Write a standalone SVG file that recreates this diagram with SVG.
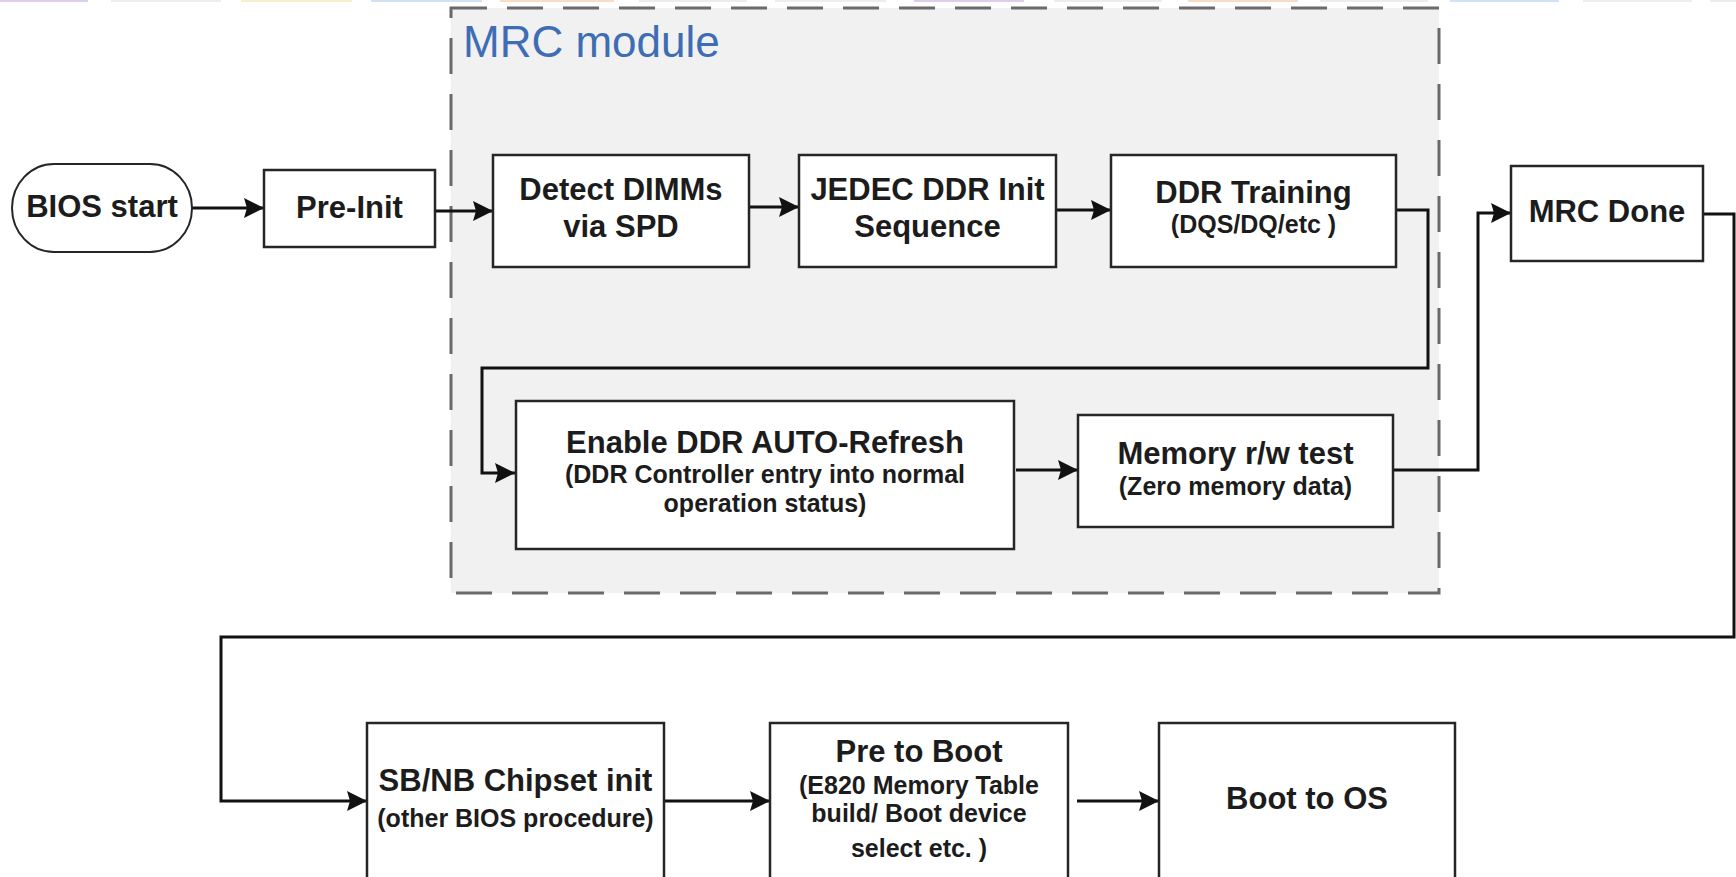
<svg xmlns="http://www.w3.org/2000/svg" width="1736" height="877" viewBox="0 0 1736 877">
  <style>
    .box { fill: #ffffff; stroke: #262626; stroke-width: 2.5; }
    .t { font-family: "Liberation Sans", Arial, sans-serif; font-weight: bold; fill: #1c1c1c; text-anchor: middle; }
    .m { font-size: 31px; }
    .s { font-size: 25px; }
    .wire { fill: none; stroke: #111111; stroke-width: 3; stroke-linejoin: miter; }
    .strip { stroke: none; }
  </style>
  <defs>
    <marker id="arr" markerUnits="userSpaceOnUse" markerWidth="22" markerHeight="22" refX="20" refY="10" orient="auto">
      <path d="M0,0 L20,10 L0,20 L3,10 Z" fill="#111111"/>
    </marker>
  </defs>

  <rect width="1736" height="877" fill="#ffffff"/>

  <!-- thin coloured tab strip along the top edge -->
  <g id="top-strip">
    <rect class="strip" x="0" y="0" width="88" height="2" fill="#dccfe9"/>
    <rect class="strip" x="111" y="0" width="110" height="2" fill="#eeeeee"/>
    <rect class="strip" x="241" y="0" width="111" height="2" fill="#f4f0c9"/>
    <rect class="strip" x="371" y="0" width="111" height="2" fill="#d3e2f3"/>
    <rect class="strip" x="500" y="0" width="114" height="2" fill="#f7dcc6"/>
    <rect class="strip" x="639" y="0" width="108" height="2" fill="#ececec"/>
    <rect class="strip" x="775" y="0" width="111" height="2" fill="#eeeeee"/>
    <rect class="strip" x="914" y="0" width="110" height="2" fill="#dccfe9"/>
    <rect class="strip" x="1054" y="0" width="108" height="2" fill="#ececec"/>
    <rect class="strip" x="1188" y="0" width="110" height="2" fill="#f7dcc6"/>
    <rect class="strip" x="1320" y="0" width="108" height="2" fill="#ececec"/>
    <rect class="strip" x="1450" y="0" width="109" height="2" fill="#d3e2f3"/>
    <rect class="strip" x="1583" y="0" width="109" height="2" fill="#eeeeee"/>
    <rect class="strip" x="1710" y="0" width="26" height="2" fill="#ececec"/>
  </g>

  <!-- MRC module container -->
  <g id="mrc-module">
    <rect x="451" y="8" width="988" height="585" fill="#f1f1f1" stroke="#6a6a6a" stroke-width="3" stroke-dasharray="36 20"/>
    <text x="463" y="57" font-family="'Liberation Sans', Arial, sans-serif" font-size="44" fill="#3d6db4">MRC module</text>
  </g>

  <!-- connectors -->
  <g id="connectors">
    <path class="wire" d="M192,208 H264" marker-end="url(#arr)"/>
    <path class="wire" d="M435,211 H493" marker-end="url(#arr)"/>
    <path class="wire" d="M749,207 H799" marker-end="url(#arr)"/>
    <path class="wire" d="M1056,210 H1111" marker-end="url(#arr)"/>
    <path class="wire" d="M1396,210 H1428 V368 H482 V473 H515" marker-end="url(#arr)"/>
    <path class="wire" d="M1016,470 H1078" marker-end="url(#arr)"/>
    <path class="wire" d="M1393,470 H1478 V213 H1511" marker-end="url(#arr)"/>
    <path class="wire" d="M1703,214 H1734 V637 H221 V801 H367" marker-end="url(#arr)"/>
    <path class="wire" d="M664,801 H770" marker-end="url(#arr)"/>
    <path class="wire" d="M1077,801 H1159" marker-end="url(#arr)"/>
  </g>

  <g id="bios-start">
    <rect x="12" y="164" width="180" height="88" rx="42" ry="44" fill="#ffffff" stroke="#262626" stroke-width="2"/>
    <text class="t m" x="102" y="217">BIOS start</text>
  </g>

  <g id="pre-init">
    <rect class="box" x="264" y="170" width="171" height="77"/>
    <text class="t m" x="349.5" y="218">Pre-Init</text>
  </g>

  <g id="detect-dimms">
    <rect class="box" x="493" y="155" width="256" height="112"/>
    <text class="t m" x="621" y="200">Detect DIMMs</text>
    <text class="t m" x="621" y="237">via SPD</text>
  </g>

  <g id="jedec-init">
    <rect class="box" x="799" y="155" width="257" height="112"/>
    <text class="t m" x="927.5" y="200">JEDEC DDR Init</text>
    <text class="t m" x="927.5" y="237">Sequence</text>
  </g>

  <g id="ddr-training">
    <rect class="box" x="1111" y="155" width="285" height="112"/>
    <text class="t m" x="1253.5" y="203">DDR Training</text>
    <text class="t s" x="1253.5" y="233">(DQS/DQ/etc )</text>
  </g>

  <g id="mrc-done">
    <rect class="box" x="1511" y="166" width="192" height="95"/>
    <text class="t m" x="1607" y="222">MRC Done</text>
  </g>

  <g id="auto-refresh">
    <rect class="box" x="516" y="401" width="498" height="148"/>
    <text class="t m" x="765" y="453">Enable DDR AUTO-Refresh</text>
    <text class="t s" x="765" y="483">(DDR Controller entry into normal</text>
    <text class="t s" x="765" y="512">operation status)</text>
  </g>

  <g id="memory-test">
    <rect class="box" x="1078" y="415" width="315" height="112"/>
    <text class="t m" x="1235.5" y="464">Memory r/w test</text>
    <text class="t s" x="1235.5" y="495">(Zero memory data)</text>
  </g>

  <g id="chipset-init">
    <rect class="box" x="367" y="723" width="297" height="200"/>
    <text class="t m" x="515.5" y="791">SB/NB Chipset init</text>
    <text class="t s" x="515.5" y="827">(other BIOS procedure)</text>
  </g>

  <g id="pre-to-boot">
    <rect class="box" x="770" y="723" width="298" height="200"/>
    <text class="t m" x="919" y="762">Pre to Boot</text>
    <text class="t s" x="919" y="794">(E820 Memory Table</text>
    <text class="t s" x="919" y="822">build/ Boot device</text>
    <text class="t s" x="919" y="857">select etc. )</text>
  </g>

  <g id="boot-os">
    <rect class="box" x="1159" y="723" width="296" height="200"/>
    <text class="t m" x="1307" y="809">Boot to OS</text>
  </g>
</svg>
